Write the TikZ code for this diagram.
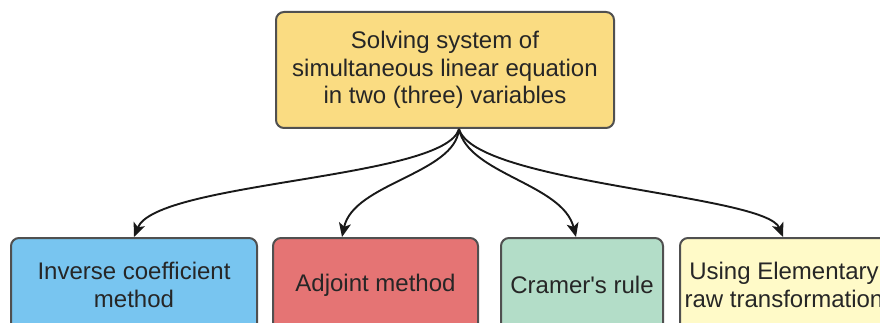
\documentclass[tikz,border=0pt]{standalone}
\usepackage{fontspec}
\setmainfont{Liberation Sans}
\usetikzlibrary{arrows.meta}
\definecolor{boxline}{RGB}{80,80,80}
\definecolor{topfill}{RGB}{250,220,130}
\definecolor{invfill}{RGB}{120,197,240}
\definecolor{adjfill}{RGB}{229,116,116}
\definecolor{cramfill}{RGB}{179,221,200}
\definecolor{elemfill}{RGB}{255,250,200}
\tikzset{
  method/.style={draw=boxline, line width=2pt, rounded corners=8pt, align=center,
    text=black!85, font=\fontsize{24}{27.5}\selectfont, inner sep=0pt},
  branch/.style={-{Stealth[length=14pt,width=12pt,inset=3.5pt]}, line width=1.9pt, black!90}
}
\begin{document}
\begin{tikzpicture}[x=1pt,y=1pt]
\useasboundingbox (0,0) rectangle (880,-323);
\clip (0,0) rectangle (880,-323);
\node[method, fill=topfill, minimum width=338pt, minimum height=116pt](sys) at (445,-70)
  {Solving system of\\simultaneous linear equation\\in two (three) variables};
\node[method, fill=invfill, minimum width=246pt, minimum height=94pt](inv) at (134,-285)
  {Inverse coefficient\\method};
\node[method, fill=adjfill, minimum width=205pt, minimum height=94pt](adj) at (375.5,-285)
  {Adjoint method};
\node[method, fill=cramfill, minimum width=162pt, minimum height=94pt](cram) at (582,-285)
  {Cramer\textquotesingle s rule};
\node[method, fill=elemfill, minimum width=208pt, minimum height=94pt](elem) at (784,-285)
  {Using Elementary\\raw transformation};
\coordinate(fork) at ([xshift=14pt]sys.south);
\path[branch]
(fork) edge[out=-105.6, in=68, out distance=52pt, in distance=60pt] (inv.north)
(fork) edge[out=-95, in=78, out distance=45pt, in distance=55pt] ([xshift=-33.5pt]adj.north)
(fork) edge[out=-78.7, in=104, out distance=46pt, in distance=55pt] ([xshift=-6pt]cram.north)
(fork) edge[out=-73.8, in=112, out distance=57pt, in distance=46pt] ([xshift=-1pt]elem.north);
\end{tikzpicture}
\end{document}
